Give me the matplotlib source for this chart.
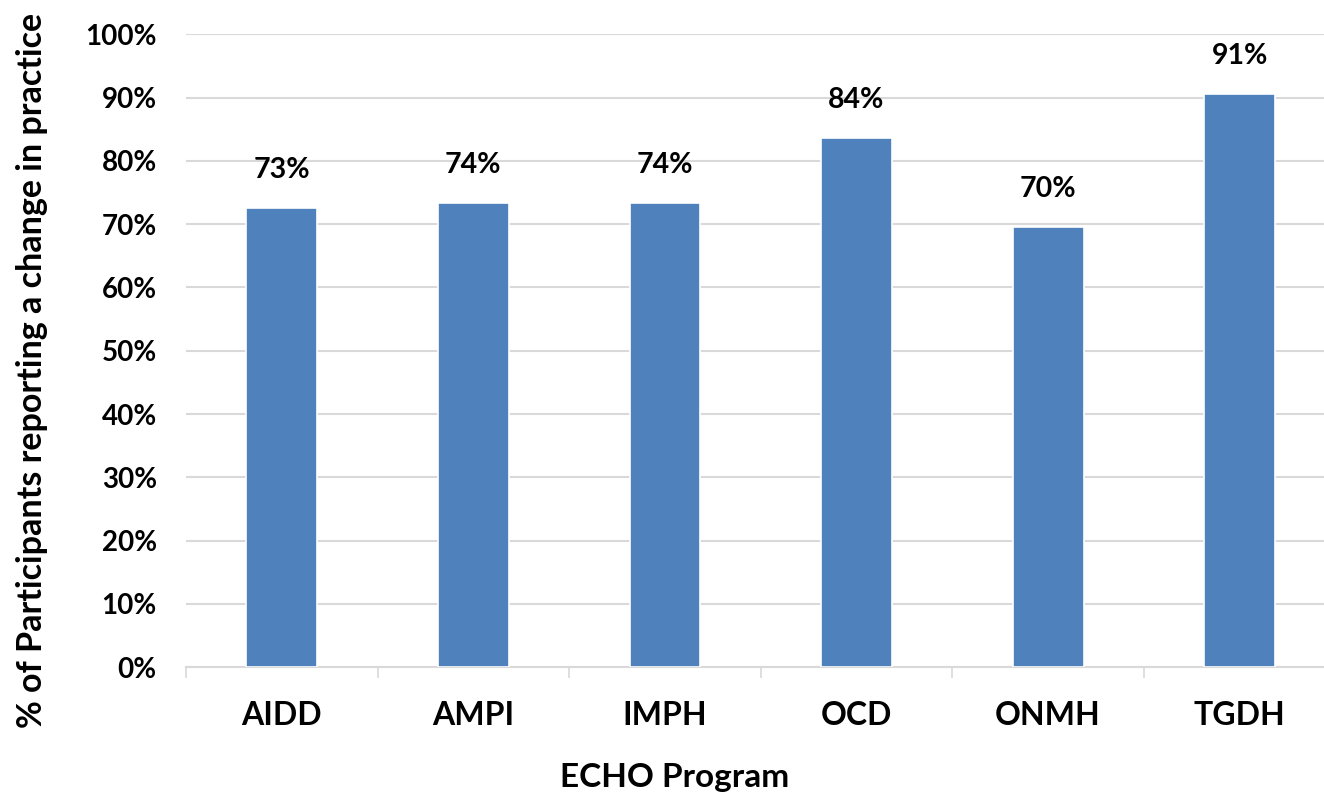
import matplotlib
matplotlib.use("Agg")
import matplotlib.pyplot as plt
from matplotlib.ticker import FuncFormatter, MultipleLocator

categories = ["AIDD", "AMPI", "IMPH", "OCD", "ONMH", "TGDH"]
values = [0.726, 0.734, 0.734, 0.836, 0.695, 0.905]
labels = ["73%", "74%", "74%", "84%", "70%", "91%"]

plt.rcParams['font.family'] = ['Lato', 'DejaVu Sans']
plt.rcParams['font.weight'] = 'bold'

fig = plt.figure(figsize=(13.24, 7.97), dpi=100)
ax = fig.add_axes([186/1324, 1 - 667.3/797, (1335.5-186)/1324, (667.3-34.3)/797])

x = list(range(len(categories)))
bars = ax.bar(x, values, width=0.37, color="#4F81BD", edgecolor="white", linewidth=1.2, zorder=3)

for xi, v, lab in zip(x, values, labels):
    ax.annotate(lab, (xi, v), xytext=(0, 18), textcoords="offset points",
                ha="center", va="bottom", fontsize=20.5, fontweight="bold", color="black")

ax.set_xlim(-0.5, len(categories) - 0.5)
ax.set_ylim(0, 1.0)
ax.yaxis.set_major_locator(MultipleLocator(0.1))
ax.yaxis.set_major_formatter(FuncFormatter(lambda v, p: f"{v*100:.0f}%"))
ax.grid(axis="y", color="#d9d9d9", linewidth=1.5, zorder=0)
ax.set_axisbelow(True)

for s in ["top", "right", "left"]:
    ax.spines[s].set_visible(False)
ax.spines["bottom"].set_color("#d9d9d9")
ax.spines["bottom"].set_linewidth(1.5)

ax.set_xticks([i - 0.5 for i in range(len(categories) + 1)], minor=False)
ax.set_xticklabels([])
ax.tick_params(axis="x", which="major", length=8, width=1.2, color="#d9d9d9", direction="out")
ax.set_xticks(x, minor=True)
ax.set_xticklabels(categories, minor=True, fontsize=23, fontweight="bold")
ax.tick_params(axis="x", which="minor", length=0, pad=24)
ax.tick_params(axis="y", length=0, labelsize=20, pad=21)
for t in ax.get_yticklabels():
    t.set_fontweight("bold")

fig.text(675/1324, 1 - 778/797, "ECHO Program", ha="center", va="center", fontsize=24, fontweight="bold")
fig.text(32/1324, 1 - 370/797, "% of Participants reporting a change in practice", rotation=90,
         ha="center", va="center", fontsize=24.5, fontweight="bold")

fig.savefig("out.png", dpi=100, facecolor="white")
